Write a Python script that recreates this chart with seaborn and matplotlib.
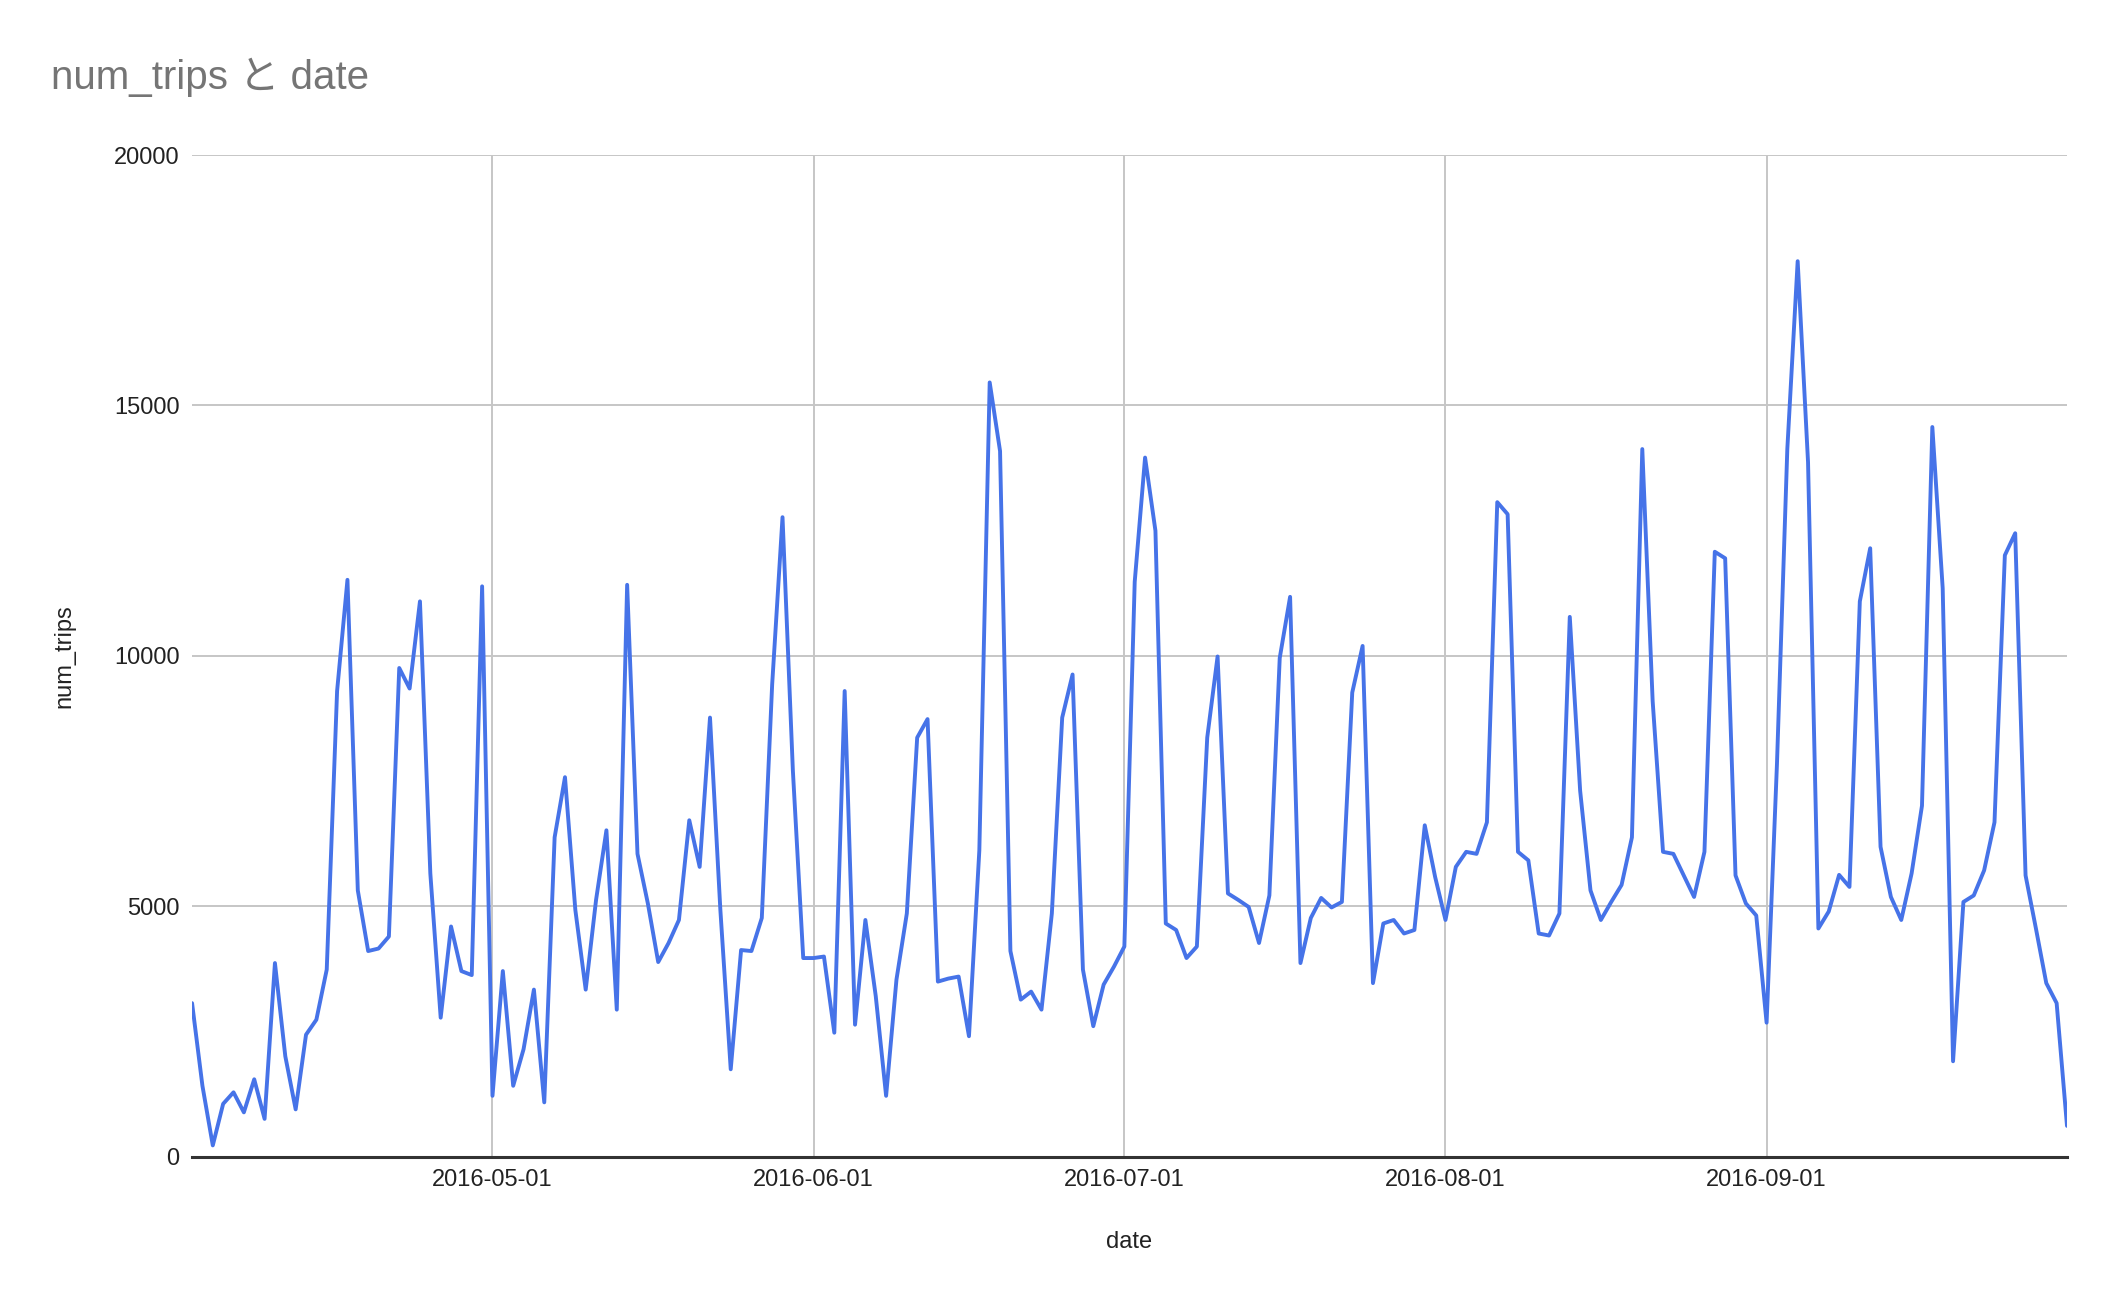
import matplotlib
matplotlib.use("Agg")
import matplotlib.pyplot as plt
import matplotlib.dates as mdates
import seaborn as sns
import pandas as pd

# daily trips, 2016-04-02 .. 2016-09-30
start_date = "2016-04-02"
end_date = "2016-09-30"
num_trips = [
    3070, 1420, 230, 1060, 1290, 890, 1550, 760, 3870, 2010,
    950, 2440, 2740, 3740, 9300, 11520, 5320, 4110, 4160, 4400,
    9760, 9350, 11090, 5660, 2780, 4600, 3710, 3630, 11390, 1220,
    3710, 1420, 2150, 3340, 1090, 6380, 7580, 4930, 3340, 5130,
    6520, 2940, 11420, 6050, 5060, 3890, 4270, 4730, 6720, 5790,
    8770, 4930, 1750, 4130, 4110, 4770, 9430, 12770, 7710, 3970,
    3970, 4000, 2480, 9300, 2640, 4730, 3210, 1220, 3540, 4860,
    8370, 8740, 3500, 3560, 3600, 2410, 6120, 15460, 14090, 4110,
    3140, 3300, 2940, 4860, 8770, 9630, 3740, 2610, 3440, 3800,
    4200, 11480, 13960, 12500, 4660, 4530, 3970, 4200, 8370, 9990,
    5260, 5130, 4990, 4270, 5220, 9960, 11180, 3870, 4770, 5170,
    4980, 5090, 9270, 10200, 3470, 4660, 4730, 4460, 4530, 6620,
    5590, 4730, 5790, 6090, 6050, 6680, 13070, 12830, 6090, 5920,
    4460, 4420, 4860, 10780, 7310, 5320, 4730, 5090, 5430, 6380,
    14130, 9100, 6090, 6050, 5620, 5190, 6090, 12080, 11950, 5620,
    5060, 4820, 2680, 7840, 14130, 17880, 13870, 4560, 4900, 5630,
    5390, 11090, 12150, 6190, 5190, 4730, 5660, 7010, 14570, 11350,
    1910, 5090, 5220, 5720, 6680, 12010, 12450, 5620, 4560, 3470,
    3070, 620,
]
month_ticks = ["2016-05-01", "2016-06-01", "2016-07-01", "2016-08-01", "2016-09-01"]
y_ticks = [0, 5000, 10000, 15000, 20000]

df = pd.DataFrame({
    "date": pd.date_range(start_date, end_date, freq="D"),
    "num_trips": num_trips,
})

sns.set_theme(style="whitegrid")
plt.rcParams["font.family"] = ["Liberation Sans", "Noto Sans CJK JP", "DejaVu Sans"]

fig = plt.figure(figsize=(21.2, 12.96), dpi=100)
ax = fig.add_axes([0.0906, 0.1073, 0.8844, 0.7731])

sns.lineplot(data=df, x="date", y="num_trips", ax=ax, color="#4673e8", linewidth=2.8)

ax.set_xlim(df["date"].iloc[0], df["date"].iloc[-1])
ax.set_ylim(0, 20000)
ax.set_yticks(y_ticks)
ax.set_xticks(pd.to_datetime(month_ticks))
ax.xaxis.set_major_formatter(mdates.DateFormatter("%Y-%m-%d"))

ax.grid(True, color="#c6c6c6", linewidth=1.4)
ax.set_axisbelow(True)
for side in ["left", "right", "top"]:
    ax.spines[side].set_visible(False)
ax.spines["bottom"].set_color("#333333")
ax.spines["bottom"].set_linewidth(2.2)
ax.spines["bottom"].set_zorder(3)

ax.tick_params(axis="both", length=0, labelsize=17, labelcolor="#222222", pad=9)

ax.set_xlabel("date", fontsize=17, color="#222222")
ax.set_ylabel("num_trips", fontsize=17, color="#222222")
ax.xaxis.set_label_coords(0.5, -0.074)
ax.yaxis.set_label_coords(-0.062, 0.5)

fig.text(51 / 2120, 1 - 89 / 1296, "num_trips と date", fontsize=29,
         color="#757575", va="baseline", ha="left")

fig.savefig("out.png", dpi=100, facecolor="white")
